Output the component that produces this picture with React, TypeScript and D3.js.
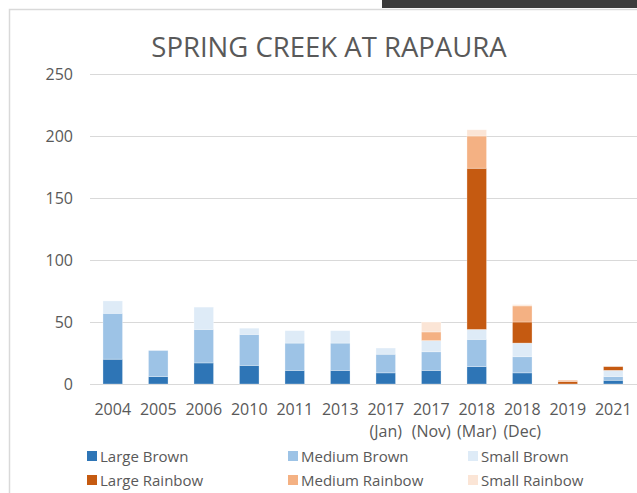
import { useRef, useEffect } from "react";
import * as d3 from "d3";

const years = ["2004", "2005", "2006", "2010", "2011", "2013", "2017", "2017", "2018", "2018", "2019", "2021"];
const months = ["", "", "", "", "", "", "(Jan)", "(Nov)", "(Mar)", "(Dec)", "", ""];

const seriesNames = ["Large Brown", "Medium Brown", "Small Brown", "Large Rainbow", "Medium Rainbow", "Small Rainbow"];
const seriesColors = ["#2e75b6", "#9dc3e6", "#deebf7", "#c55a11", "#f4b183", "#fbe5d6"];

const largeBrown = [20, 6, 17, 15, 11, 11, 9, 11, 14, 9, 0, 3];
const mediumBrown = [37, 21, 27, 25, 22, 22, 15, 15, 22, 13, 0, 3];
const smallBrown = [10, 0, 18, 5, 10, 10, 5, 9, 8, 11, 0, 5];
const largeRainbow = [0, 0, 0, 0, 0, 0, 0, 0, 130, 17, 2, 3];
const mediumRainbow = [0, 0, 0, 0, 0, 0, 0, 7, 26, 13, 1, 0];
const smallRainbow = [0, 0, 0, 0, 0, 0, 0, 8, 5, 1, 0, 0];

const yTicks = [0, 50, 100, 150, 200, 250];

const FONT = "'Open Sans', 'Liberation Sans', sans-serif";

export default function App() {
  const ref = useRef<SVGSVGElement>(null);

  useEffect(() => {
    if (!ref.current) return;
    const W = 637,
      H = 493;
    const svg = d3.select(ref.current);
    svg.selectAll("*").remove();
    svg.attr("width", W).attr("height", H).attr("viewBox", `0 0 ${W} ${H}`);

    svg.append("rect").attr("width", W).attr("height", H).attr("fill", "#fff");
    // chart frame, cut off at the right and bottom
    svg
      .append("rect")
      .attr("x", 9.5)
      .attr("y", 9.5)
      .attr("width", W + 20)
      .attr("height", H + 20)
      .attr("fill", "none")
      .attr("stroke", "#d9d9d9")
      .attr("stroke-width", 1.5);
    svg.append("rect").attr("x", 382).attr("y", 0).attr("width", W - 382).attr("height", 8).attr("fill", "#3b3b3b");

    svg
      .append("text")
      .attr("x", 329)
      .attr("y", 57)
      .attr("text-anchor", "middle")
      .attr("font-family", FONT)
      .attr("font-size", 27.5)
      .attr("fill", "#595959")
      .text("SPRING CREEK AT RAPAURA");

    const idx = d3.range(years.length);
    const x = d3
      .scaleBand<number>()
      .domain(idx)
      .range([90, 636])
      .paddingInner(0.57)
      .paddingOuter(0.285);
    const y = d3.scaleLinear().domain([0, 250]).range([384, 74]);

    // gridlines
    svg
      .append("g")
      .selectAll("line")
      .data(yTicks)
      .join("line")
      .attr("x1", 90)
      .attr("x2", W)
      .attr("y1", (d) => Math.round(y(d)) + 0.5)
      .attr("y2", (d) => Math.round(y(d)) + 0.5)
      .attr("stroke", "#d9d9d9")
      .attr("stroke-width", 1);

    svg
      .append("g")
      .selectAll("text")
      .data(yTicks)
      .join("text")
      .attr("x", 73)
      .attr("y", (d) => y(d) + 5.5)
      .attr("text-anchor", "end")
      .attr("font-family", FONT)
      .attr("font-size", 16)
      .attr("fill", "#595959")
      .text((d) => d);

    const series = [largeBrown, mediumBrown, smallBrown, largeRainbow, mediumRainbow, smallRainbow];
    const rows = idx.map((i) => {
      const r: Record<string, number> = { i };
      seriesNames.forEach((n, k) => (r[n] = series[k][i]));
      return r;
    });
    const stacked = d3.stack<Record<string, number>>().keys(seriesNames)(rows);

    svg
      .append("g")
      .selectAll("g")
      .data(stacked)
      .join("g")
      .attr("fill", (_, k) => seriesColors[k])
      .selectAll("rect")
      .data((s) => s.filter((d) => d[1] > d[0]))
      .join("rect")
      .attr("x", (d) => x(d.data.i)!)
      .attr("width", x.bandwidth())
      .attr("y", (d) => y(d[1]))
      .attr("height", (d) => y(d[0]) - y(d[1]))
      .attr("stroke", "#fff")
      .attr("stroke-opacity", 0.4)
      .attr("stroke-width", 0.75);

    // category labels
    const xl = svg.append("g").attr("font-family", FONT).attr("font-size", 16).attr("fill", "#595959").attr("text-anchor", "middle");
    xl.selectAll("text.yr")
      .data(idx)
      .join("text")
      .attr("class", "yr")
      .attr("x", (i) => x(i)! + x.bandwidth() / 2)
      .attr("y", 415)
      .text((i) => years[i]);
    xl.selectAll("text.mo")
      .data(idx.filter((i) => months[i]))
      .join("text")
      .attr("class", "mo")
      .attr("x", (i) => x(i)! + x.bandwidth() / 2)
      .attr("y", 437)
      .text((i) => months[i]);

    // legend
    const colX = [87, 288, 468];
    const rowY = [456, 480];
    const lg = svg
      .append("g")
      .selectAll("g")
      .data(seriesNames)
      .join("g")
      .attr("transform", (_, k) => `translate(${colX[k % 3]},${rowY[Math.floor(k / 3)]})`);
    lg.append("rect")
      .attr("x", 0)
      .attr("y", -5)
      .attr("width", 10)
      .attr("height", 10)
      .attr("fill", (_, k) => seriesColors[k]);
    lg.append("text")
      .attr("x", 13)
      .attr("y", 5.5)
      .attr("font-family", FONT)
      .attr("font-size", 15)
      .attr("fill", "#595959")
      .text((d) => d);
  }, []);

  return <svg ref={ref} style={{ display: "block", position: "absolute", left: 0, top: 0 }} />;
}
